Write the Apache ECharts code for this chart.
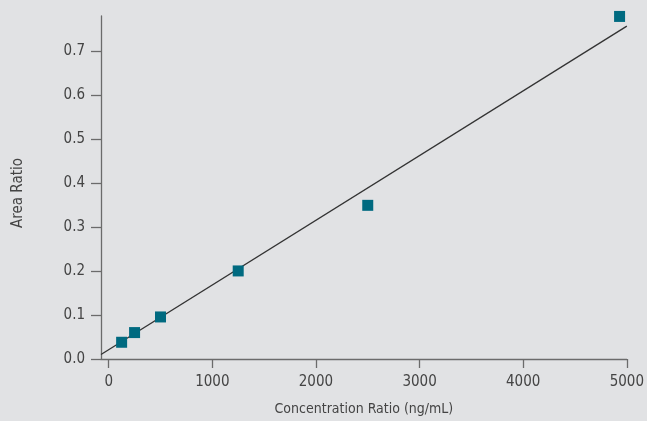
<!DOCTYPE html>
<html><head><meta charset="utf-8">
<script src="https://cdn.jsdelivr.net/npm/echarts@6/dist/echarts.min.js"></script>
<style>html,body{margin:0;padding:0;background:#e1e2e4}#c{width:647px;height:421px}</style>
</head><body><div id="c"></div>
<script>
// Calibration points (concentration ratio ng/mL, area ratio)
const concentration = [125, 250, 500, 1250, 2500, 4930];
const areaRatio = [0.038, 0.060, 0.0955, 0.200, 0.349, 0.778];
// Fitted regression line endpoints
const fitX = [-74, 5000];
const fitY = [0.0101, 0.756];
const xTicks = [0, 1000, 2000, 3000, 4000, 5000];
const yTicks = [0.0, 0.1, 0.2, 0.3, 0.4, 0.5, 0.6, 0.7];
const xTitle = 'Concentration Ratio (ng/mL)';
const yTitle = 'Area Ratio';

const FONT = '"Liberation Sans Narrow", "DejaVu Sans Condensed", sans-serif';
const chart = echarts.init(document.getElementById('c'));
chart.setOption({
  backgroundColor: '#e1e2e4',
  animation: false,
  grid: {left: 101, right: 17, top: 16, bottom: 59, containLabel: false},
  xAxis: {
    type: 'value', min: -74, max: 5000,
    splitLine: {show: false},
    axisLine: {show: true, onZero: false, lineStyle: {color: '#6b6b6b', width: 1.3}},
    axisTick: {show: true, length: 9, lineStyle: {color: '#6b6b6b', width: 1.3}, customValues: xTicks},
    axisLabel: {customValues: xTicks, color: '#444', fontSize: 15, fontFamily: FONT, margin: 16,
      formatter: v => String(v)},
    name: xTitle, nameLocation: 'middle', nameGap: 43,
    nameTextStyle: {color: '#444', fontSize: 14, fontFamily: FONT}
  },
  yAxis: {
    type: 'value', min: 0, max: 0.779,
    splitLine: {show: false},
    axisLine: {show: true, onZero: false, lineStyle: {color: '#6b6b6b', width: 1.3}},
    axisTick: {show: true, length: 10, lineStyle: {color: '#6b6b6b', width: 1.3}, customValues: yTicks},
    axisLabel: {customValues: yTicks, color: '#444', fontSize: 15, fontFamily: FONT, margin: 16,
      formatter: v => v.toFixed(1)}
  },
  graphic: [
    {type: 'text', x: 18, y: 193, rotation: Math.PI / 2,
      style: {text: yTitle, fill: '#444', fontSize: 15, fontFamily: FONT, align: 'center', verticalAlign: 'middle'}}
  ],
  series: [
    {type: 'line', data: fitX.map((x, i) => [x, fitY[i]]), symbol: 'none',
      lineStyle: {color: '#333', width: 1.3}, z: 2},
    {type: 'scatter', data: concentration.map((x, i) => [x, areaRatio[i]]),
      symbol: 'rect', symbolSize: 11, itemStyle: {color: '#006a80', opacity: 1}, z: 3}
  ]
});
</script></body></html>
